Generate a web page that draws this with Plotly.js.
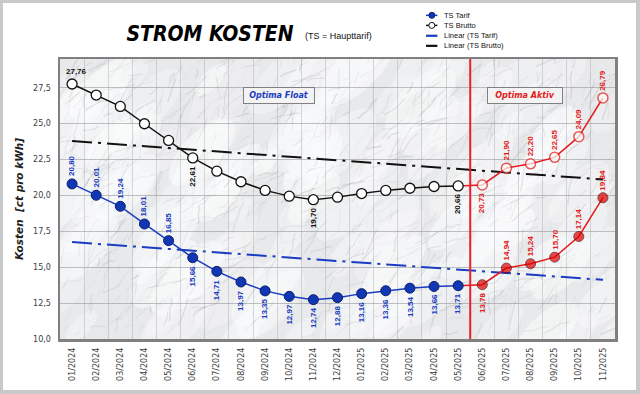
<!DOCTYPE html>
<html>
<head>
<meta charset="utf-8">
<script src="https://cdn.plot.ly/plotly-3.0.1.min.js"></script>
<style>
  html, body { margin: 0; padding: 0; background: #c9c9c9; width: 640px; height: 394px; overflow: hidden; }
  #chart { position: absolute; left: 3px; top: 3px; width: 633px; height: 387px; background: #fff; }
</style>
</head>
<body>
<div id="chart"></div>
<script>
// ---------- data ----------
const months = ['01/2024','02/2024','03/2024','04/2024','05/2024','06/2024','07/2024','08/2024','09/2024','10/2024','11/2024','12/2024',
                '01/2025','02/2025','03/2025','04/2025','05/2025','06/2025','07/2025','08/2025','09/2025','10/2025','11/2025'];
const tsTarif  = [20.80, 20.01, 19.24, 18.01, 16.85, 15.66, 14.71, 13.97, 13.35, 12.97, 12.74, 12.88,
                  13.16, 13.36, 13.54, 13.66, 13.71, 13.78, 14.94, 15.24, 15.70, 17.14, 19.84];
const tsBrutto = [27.76, 26.99, 26.20, 24.99, 23.83, 22.61, 21.69, 20.95, 20.35, 19.95, 19.70, 19.88,
                  20.13, 20.35, 20.50, 20.62, 20.66, 20.73, 21.90, 22.20, 22.65, 24.09, 26.79];
// linear trend lines (start / end values)
const trendTarif  = [16.75, 14.12];
const trendBrutto = [23.79, 21.11];
const lastFloatIndex = 16;               // 05/2025 = last month of "Optima Float"
const bruttoLabelIdx = [0, 5, 10, 16, 17, 18, 19, 20, 21, 22];

// ---------- styles ----------
const BLUE = '#1a3cc0', BLUE_MK = '#1237b5', RED = '#e51a1a', BLACK = '#111111';
const fmt = v => v.toFixed(2).replace('.', ',');

// decorative marble-like background texture (deterministic)
function marble(w, h) {
  const c = document.createElement('canvas'); c.width = w; c.height = h;
  const g = c.getContext('2d');
  g.fillStyle = '#e8e9eb'; g.fillRect(0, 0, w, h);
  let s = 987654;
  const rnd = () => { s = (s * 1103515245 + 12345) & 0x7fffffff; return s / 0x7fffffff; };
  for (let i = 0; i < 160; i++) {           // soft light patches
    const x = rnd() * w, y = rnd() * h, r = 8 + rnd() * 22;
    g.fillStyle = 'rgba(250,251,252,' + (0.25 + rnd() * 0.35).toFixed(3) + ')';
    g.beginPath(); g.ellipse(x, y, r * 1.6, r * 0.7, -0.8, 0, Math.PI * 2); g.fill();
  }
  for (let i = 0; i < 950; i++) {           // veins
    let x = rnd() * w, y = rnd() * h;
    const len = 6 + rnd() * 24, ang = -0.85 + (rnd() - 0.5) * 1.4;
    g.strokeStyle = 'rgba(120,125,131,' + (0.05 + rnd() * 0.15).toFixed(3) + ')';
    g.lineWidth = 0.4 + rnd() * 1.1;
    g.beginPath(); g.moveTo(x, y);
    for (let k = 0; k < 4; k++) {
      x += Math.cos(ang) * len / 4 + (rnd() - 0.5) * 3;
      y += Math.sin(ang) * len / 4 + (rnd() - 0.5) * 3;
      g.lineTo(x, y);
    }
    g.stroke();
  }
  return c.toDataURL();
}

const idxF = months.slice(0, lastFloatIndex + 1).map((_, i) => i);
const idxA = months.slice(lastFloatIndex).map((_, i) => i + lastFloatIndex);
const DASH = '20px,6px,3px,6px';

const traces = [
  { x: [months[0], months[months.length-1]], y: trendBrutto, mode: 'lines', name: 'Linear (TS Brutto)', showlegend: false, hoverinfo: 'skip',
    line: { color: BLACK, width: 2, dash: DASH } },
  { x: [months[0], months[months.length-1]], y: trendTarif, mode: 'lines', name: 'Linear (TS Tarif)', showlegend: false, hoverinfo: 'skip',
    line: { color: BLUE, width: 2, dash: DASH } },
  // Optima Aktiv (red)
  { x: idxA.map(i => months[i]), y: idxA.map(i => tsBrutto[i]), mode: 'lines+markers', showlegend: false,
    line: { color: RED, width: 1.5 },
    marker: { size: idxA.map(i => i === lastFloatIndex ? 0 : 10), color: '#ffffff', line: { color: RED, width: 1.5 } } },
  { x: idxA.map(i => months[i]), y: idxA.map(i => tsTarif[i]), mode: 'lines+markers', showlegend: false,
    line: { color: RED, width: 1.5 },
    marker: { size: idxA.map(i => i === lastFloatIndex ? 0 : 10), color: '#dd0000', line: { color: '#500000', width: 1 } } },
  // Optima Float
  { x: idxF.map(i => months[i]), y: idxF.map(i => tsBrutto[i]), mode: 'lines+markers', name: 'TS Brutto', showlegend: false,
    line: { color: BLACK, width: 1.5 },
    marker: { size: 10, color: '#ffffff', line: { color: BLACK, width: 1.3 } } },
  { x: idxF.map(i => months[i]), y: idxF.map(i => tsTarif[i]), mode: 'lines+markers', name: 'TS Tarif', showlegend: false,
    line: { color: BLUE, width: 1.5 },
    marker: { size: 10, color: BLUE_MK, line: { color: '#0a1f6e', width: 1 } } }
];

// ---------- data labels ----------
const annotations = [];
const labFont = (c) => ({ family: 'Liberation Sans, Arial, sans-serif', size: 8, color: c, weight: 'bold' });
tsTarif.forEach((v, i) => {
  const above = i <= 4 || i > lastFloatIndex + 1;
  const col = i > lastFloatIndex ? RED : BLUE;
  annotations.push({ x: months[i], y: v, xref: 'x', yref: 'y', text: fmt(v), showarrow: false,
    textangle: -90, yshift: above ? 18 : -18, font: labFont(col) });
});
bruttoLabelIdx.forEach(i => {
  const v = tsBrutto[i];
  const col = i > lastFloatIndex ? RED : BLACK;
  if (i === 0) {
    annotations.push({ x: months[i], y: v, xref: 'x', yref: 'y', text: fmt(v), showarrow: false,
      xshift: 4, yshift: 12, font: labFont(col) });
    return;
  }
  const above = i > lastFloatIndex + 1;
  annotations.push({ x: months[i], y: v, xref: 'x', yref: 'y', text: fmt(v), showarrow: false,
    textangle: -90, yshift: above ? 18 : -18, font: labFont(col) });
});

// phase boxes
annotations.push({ xref: 'paper', yref: 'paper', x: 0.394, y: 0.871, xanchor: 'center', yanchor: 'middle',
  text: 'Optima Float', showarrow: false,
  font: { family: 'DejaVu Sans, Verdana, sans-serif', size: 8, color: BLUE, weight: 'bold', style: 'italic' },
  bgcolor: '#f3f3f3', bordercolor: '#808080', borderwidth: 1, width: 68, height: 13 });
annotations.push({ xref: 'paper', yref: 'paper', x: 0.837, y: 0.871, xanchor: 'center', yanchor: 'middle',
  text: 'Optima Aktiv', showarrow: false,
  font: { family: 'DejaVu Sans, Verdana, sans-serif', size: 8, color: RED, weight: 'bold', style: 'italic' },
  bgcolor: '#f3f3f3', bordercolor: '#808080', borderwidth: 1, width: 72, height: 13 });

// subtitle
annotations.push({ xref: 'paper', yref: 'paper', x: 0.501, y: 1.0815, xanchor: 'center', yanchor: 'middle',
  text: '(TS = Haupttarif)', showarrow: false,
  font: { family: 'Liberation Sans, Arial, sans-serif', size: 9, color: '#111' } });

// ---------- custom legend ----------
const shapes = [
  { type: 'line', xref: 'x', yref: 'paper', x0: lastFloatIndex + 0.5, x1: lastFloatIndex + 0.5, y0: 0, y1: 1,
    line: { color: '#e8202a', width: 2 } }
];
const legItems = [
  { text: 'TS Tarif', color: BLUE, marker: BLUE_MK, mline: '#0a1f6e', y: 1.156 },
  { text: 'TS Brutto', color: BLACK, marker: '#ffffff', mline: BLACK, y: 1.120 },
  { text: 'Linear (TS Tarif)', color: BLUE, marker: null, y: 1.083 },
  { text: 'Linear (TS Brutto)', color: BLACK, marker: null, y: 1.047 }
];
legItems.forEach(it => {
  shapes.push({ type: 'line', xref: 'paper', yref: 'paper', x0: 0.6595, x1: 0.680, y0: it.y, y1: it.y,
    line: { color: it.color, width: it.marker ? 1.5 : 2.2 } });
  if (it.marker) {
    shapes.push({ type: 'circle', xref: 'paper', yref: 'paper', xsizemode: 'pixel', ysizemode: 'pixel',
      xanchor: 0.670, yanchor: it.y, x0: -3, x1: 3, y0: -3, y1: 3,
      fillcolor: it.marker, line: { color: it.mline, width: 1 } });
  }
  annotations.push({ xref: 'paper', yref: 'paper', x: 0.689, y: it.y, xanchor: 'left', yanchor: 'middle',
    text: it.text, showarrow: false,
    font: { family: 'Liberation Sans, Arial, sans-serif', size: 7.5, color: '#111' } });
});

const layout = {
  width: 633, height: 387,
  margin: { l: 57, r: 21, t: 56, b: 51 },
  paper_bgcolor: '#ffffff',
  plot_bgcolor: '#e6e7e9',
  separators: ',.',
  showlegend: false,
  title: { text: 'STROM KOSTEN', x: 0.327, xanchor: 'center', y: 0.922, yanchor: 'middle', xref: 'container', yref: 'container',
    font: { family: 'DejaVu Sans Condensed, DejaVu Sans, sans-serif', size: 21, color: '#000', weight: 'bold', style: 'italic' } },
  xaxis: {
    type: 'category', categoryorder: 'array', categoryarray: months,
    range: [-0.5, months.length - 0.5],
    tickangle: -90, tickfont: { family: 'DejaVu Sans, Verdana, sans-serif', size: 8, color: '#404040' },
    tickson: 'boundaries', showgrid: true, gridcolor: 'rgba(150,153,157,0.35)', gridwidth: 1, zeroline: false,
    showline: true, mirror: true, linecolor: '#808080', linewidth: 2.5,
    ticks: '', ticklabelstandoff: 3
  },
  yaxis: {
    range: [10, 29.5], tick0: 10, dtick: 2.5, tickformat: '.1f',
    tickfont: { family: 'DejaVu Sans, Verdana, sans-serif', size: 8, color: '#404040' },
    showgrid: true, gridcolor: 'rgba(140,143,147,0.55)', gridwidth: 1, zeroline: false,
    showline: true, mirror: true, linecolor: '#808080', linewidth: 2.5,
    ticks: '', ticklabelstandoff: 5,
    title: { text: 'Kosten\u00a0\u00a0[ct pro kWh]', standoff: 8,
      font: { family: 'DejaVu Sans, Verdana, sans-serif', size: 10.5, color: '#222', weight: 'bold', style: 'italic' } }
  },
  images: [{ source: marble(555, 280), xref: 'paper', yref: 'paper', x: 0, y: 1, sizex: 1, sizey: 1,
    xanchor: 'left', yanchor: 'top', sizing: 'stretch', layer: 'below' }],
  annotations: annotations,
  shapes: shapes
};

Plotly.newPlot('chart', traces, layout, { displayModeBar: false, staticPlot: true });
</script>
</body>
</html>
